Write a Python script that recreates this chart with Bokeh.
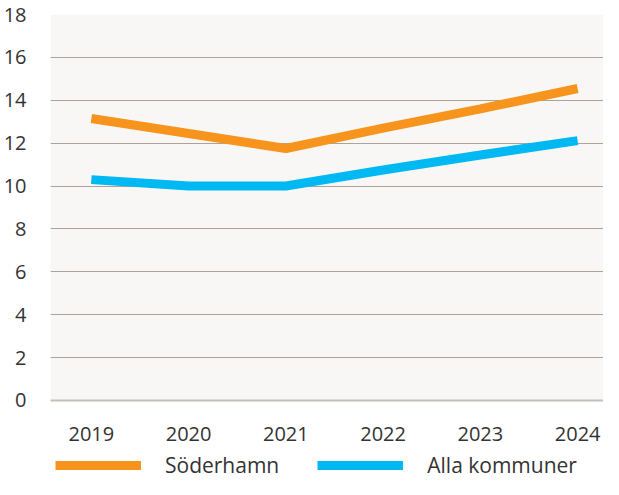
from bokeh.plotting import figure
from bokeh.models import (Legend, LegendItem, FixedTicker, Range1d, ColumnDataSource,
                          BoxAnnotation, Span)
from bokeh.core.properties import value
from bokeh.embed import file_html
from bokeh.resources import INLINE

years = ["2019", "2020", "2021", "2022", "2023", "2024"]
soderhamn = [13.15, 12.45, 11.75, 12.7, 13.6, 14.55]
alla_kommuner = [10.3, 10.0, 10.0, 10.75, 11.45, 12.12]
y_ticks = [0, 2, 4, 6, 8, 10, 12, 14, 16, 18]
series_names = ["Söderhamn", "Alla kommuner"]

FONT = "Open Sans"
TEXT = "#333333"
Y_MAX = 18
LABEL_Y = -1.54   # where the year labels sit, below the value axis

x = list(range(len(years)))
src = ColumnDataSource(dict(x=x, s=soderhamn, a=alla_kommuner))
lab = ColumnDataSource(dict(x=x, y=[LABEL_Y] * len(x), t=years))

p = figure(width=603, height=479, output_backend="svg", toolbar_location=None,
           x_range=Range1d(-0.42, 5.266), y_range=Range1d(-3.684, Y_MAX),
           min_border_left=48, min_border_right=0, min_border_top=14, min_border_bottom=0)

p.background_fill_color = "white"
p.border_fill_color = "white"
p.outline_line_color = None

# plot area background only over the value range
p.add_layout(BoxAnnotation(bottom=0, top=Y_MAX, fill_color="#f8f7f5", fill_alpha=1,
                           line_color=None, level="image"))

p.xgrid.grid_line_color = None
p.ygrid.ticker = FixedTicker(ticks=y_ticks)
p.ygrid.grid_line_color = "#ada39c"
p.ygrid.grid_line_width = 1
p.add_layout(Span(location=0, dimension="width", line_color="#c8bdb7", line_width=2,
                  level="underlay"))

r1 = p.line("x", "s", source=src, line_color="#f7941d", line_width=9)
r2 = p.line("x", "a", source=src, line_color="#00b9f2", line_width=9)

p.text("x", "y", text="t", source=lab, text_font=value(FONT), text_font_size="20px",
       text_color=TEXT, text_align="center", text_baseline="middle")

p.xaxis.visible = False
yax = p.yaxis[0]
yax.ticker = FixedTicker(ticks=y_ticks)
yax.axis_line_color = None
yax.major_tick_line_color = None
yax.minor_tick_line_color = None
yax.major_label_text_font = FONT
yax.major_label_text_font_size = "20px"
yax.major_label_text_color = TEXT
yax.major_label_standoff = 18

legend = Legend(items=[LegendItem(label=series_names[0], renderers=[r1]),
                       LegendItem(label=series_names[1], renderers=[r2])],
                orientation="horizontal", location=(5, 0),
                glyph_width=86, glyph_height=10, label_standoff=24, spacing=38,
                padding=0, margin=0, border_line_color=None, background_fill_alpha=0,
                label_text_font=FONT, label_text_font_size="21px", label_text_color=TEXT)
p.add_layout(legend, "center")

open("out.html", "w").write(file_html(p, INLINE))
